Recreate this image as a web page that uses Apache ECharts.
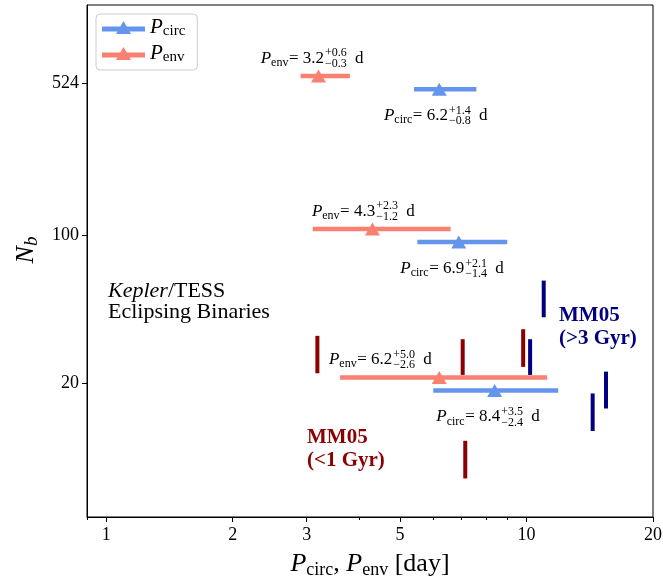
<!DOCTYPE html>
<html lang="en">
<head>
<meta charset="UTF-8">
<title>Pcirc and Penv vs Nb</title>
<script src="https://cdn.jsdelivr.net/npm/echarts@6/dist/echarts.min.js"></script>
<style>
    *{margin:0;padding:0;}
    html,body{width:100%;height:100%;overflow:hidden;background:#fff;}
    #chart{width:663px;height:577px;}
</style>
</head>
<body>
<div id="chart"></div>
<script>
// Kepler/TESS fits, one row per Nb level
const nbLevels = [524, 100, 20];
const envPeriod = [3.2, 4.3, 6.2];
const envMinus = [0.3, 1.2, 2.6];
const envPlus = [0.6, 2.3, 5.0];
const envY = [565, 107, 21.3];
const circPeriod = [6.2, 6.9, 8.4];
const circMinus = [0.8, 1.4, 2.4];
const circPlus = [1.4, 2.1, 3.5];
const circY = [490, 93, 18.5];
const envLabelX = [3.09, 4.09, 4.49];
const circLabelX = [6.08, 6.65, 8.10];

// MM05 clusters (period, Nb range)
const youngP = [3.18, 7.05, 9.82, 7.15];
const youngLo = [22.3, 21.9, 23.9, 7.1];
const youngHi = [33.5, 32.3, 36.0, 10.7];
const oldP = [10.99, 10.2, 15.46, 14.37];
const oldLo = [41.0, 21.9, 15.2, 11.9];
const oldHi = [61.1, 32.3, 22.7, 17.9];

const xTicks = [1, 2, 3, 5, 10, 20];
const xMinorTicks = [0.9, 4, 6, 7, 8, 9];
const yTicks = [20, 100, 524];

const SERIF = "'Liberation Serif', 'DejaVu Serif', serif";
const BLUE = '#6495ED', RED = '#FA8072', DARKRED = '#8B0000', NAVY = '#000080';

let chart = echarts.init(document.getElementById('chart'));

let mctx = document.createElement('canvas').getContext('2d');
function measure(t, size, italic) {
    mctx.font = (italic ? 'italic ' : '') + size + 'px ' + SERIF;
    return mctx.measureText(t).width;
}

// P_sub = val^{+up}_{-down} d, centred on (cx, cy)
function mathLabel(sub, val, up, down, cx, cy) {
    const big = 17, small = 12;
    let pieces = [];
    let x = 0;
    function put(t, size, italic, dy) {
        pieces.push({t, size, italic, x, dy});
        return measure(t, size, italic);
    }
    x += put('P', big, true, 0);
    x += put(sub, small, false, 4.5) + 0.5;
    x += put('= ' + val, big, false, 0) + 1;
    let w1 = put(up, small, false, -5);
    let w2 = put(down, small, false, 5.5);
    x += Math.max(w1, w2) + 4;
    x += put(' d', big, false, 0);
    let left = cx - x / 2;
    return {
        type: 'group',
        children: pieces.map(p => ({
            type: 'text',
            x: left + p.x,
            y: cy + p.dy,
            style: {
                text: p.t, fontFamily: SERIF, fontSize: p.size,
                fontStyle: p.italic ? 'italic' : 'normal',
                fill: '#000', align: 'left', verticalAlign: 'middle'
            }
        }))
    };
}

function barSeries(name, color, per, minus, plus, ys) {
    return {
        name: name,
        type: 'custom',
        itemStyle: {color: color},
        data: per.map((p, i) => [p - minus[i], p + plus[i], ys[i]]),
        encode: {x: [0, 1], y: 2},
        z: 3,
        renderItem: function (params, api) {
            let a = api.coord([api.value(0), api.value(2)]);
            let b = api.coord([api.value(1), api.value(2)]);
            return {
                type: 'line',
                shape: {x1: a[0], y1: a[1], x2: b[0], y2: b[1]},
                style: {stroke: color, lineWidth: 4.5}
            };
        }
    };
}

function markerSeries(name, color, per, ys) {
    return {
        name: name,
        type: 'scatter',
        symbol: 'triangle',
        symbolSize: [15, 13],
        itemStyle: {color: color, opacity: 1},
        z: 4,
        data: per.map((p, i) => [p, ys[i]])
    };
}

function labelSeries(sub, labelX, per, minus, plus, ys, dy) {
    return {
        type: 'custom',
        silent: true,
        z: 5,
        data: labelX.map((x, i) => [x, ys[i], i]),
        renderItem: function (params, api) {
            let i = api.value(2);
            let c = api.coord([api.value(0), api.value(1)]);
            return mathLabel(sub, per[i].toFixed(1), '+' + plus[i].toFixed(1),
                '\u2212' + minus[i].toFixed(1), c[0], c[1] + dy);
        }
    };
}

function vlineSeries(color, per, lo, hi) {
    return {
        type: 'custom',
        silent: true,
        z: 2,
        data: per.map((p, i) => [p, lo[i], hi[i]]),
        encode: {x: 0, y: [1, 2]},
        renderItem: function (params, api) {
            let a = api.coord([api.value(0), api.value(1)]);
            let b = api.coord([api.value(0), api.value(2)]);
            return {
                type: 'line',
                shape: {x1: a[0], y1: a[1], x2: b[0], y2: b[1]},
                style: {stroke: color, lineWidth: 4}
            };
        }
    };
}

const subRich = {
    i: {fontStyle: 'italic', fontFamily: SERIF, fontSize: 26, lineHeight: 30},
    s: {fontFamily: SERIF, fontSize: 18, lineHeight: 18, verticalAlign: 'bottom'},
    si: {fontStyle: 'italic', fontFamily: SERIF, fontSize: 19, lineHeight: 18, verticalAlign: 'bottom'},
    n: {fontFamily: SERIF, fontSize: 26, lineHeight: 30}
};

let options = {
    animation: false,
    backgroundColor: '#fff',
    grid: {
        left: 87, right: 10, top: 5, bottom: 60,
        outerBoundsMode: 'none', containLabel: false,
        show: true, borderColor: '#000', borderWidth: 1
    },
    legend: {
        orient: 'vertical',
        left: 96,
        top: 14,
        padding: [3, 12, 5, 6],
        itemGap: 4,
        itemWidth: 43,
        itemHeight: 14,
        itemTextGap: 13,
        icon: 'path://M0,5.5L43,5.5L43,10.5L0,10.5ZM14,13L21.5,0L29,13Z',
        borderColor: '#cccccc',
        borderWidth: 1,
        borderRadius: 4,
        backgroundColor: 'rgba(255,255,255,0.8)',
        data: ['Pcirc', 'Penv'],
        formatter: function (name) {
            return name === 'Pcirc' ? '{i|P}{s|circ}' : '{i|P}{s|env}';
        },
        textStyle: {
            color: '#000',
            fontFamily: SERIF,
            rich: {
                i: {fontStyle: 'italic', fontFamily: SERIF, fontSize: 21, lineHeight: 23},
                s: {fontFamily: SERIF, fontSize: 15, lineHeight: 14, verticalAlign: 'bottom'}
            }
        }
    },
    xAxis: [{
        type: 'log',
        min: 0.9,
        max: 20,
        name: '{i|P}{s|circ}{n|, }{i|P}{s|env}{n| [day]}',
        nameLocation: 'middle',
        nameGap: 32,
        nameTextStyle: {color: '#000', rich: subRich},
        axisLine: {show: true, lineStyle: {color: '#000', width: 1}},
        axisTick: {show: true, length: 5, customValues: xTicks, lineStyle: {color: '#000'}},
        axisLabel: {
            customValues: xTicks, color: '#000', fontFamily: SERIF, fontSize: 18, margin: 9,
            formatter: v => String(v)
        },
        splitLine: {show: false},
        minorTick: {show: false}
    }, {
        type: 'log',
        min: 0.9,
        max: 20,
        position: 'bottom',
        axisLine: {show: false},
        axisTick: {show: true, length: 3, customValues: xMinorTicks, lineStyle: {color: '#000'}},
        axisLabel: {show: false},
        splitLine: {show: false}
    }],
    yAxis: {
        type: 'log',
        min: 4.67,
        max: 1224,
        name: '{i|N}{si|b}',
        nameLocation: 'middle',
        nameRotate: 90,
        nameGap: 45,
        nameTextStyle: {color: '#000', rich: subRich, padding: [0, 0, 0, 22]},
        axisLine: {show: true, lineStyle: {color: '#000', width: 1}},
        axisTick: {show: true, length: 5, customValues: yTicks, lineStyle: {color: '#000'}},
        axisLabel: {
            customValues: yTicks, color: '#000', fontFamily: SERIF, fontSize: 18, margin: 8,
            formatter: v => String(Math.round(v))
        },
        splitLine: {show: false},
        minorTick: {show: false}
    },
    graphic: [{
        type: 'text',
        left: 108,
        top: 280,
        style: {
            text: '{k|Kepler}/TESS\nEclipsing Binaries',
            fontFamily: SERIF, fontSize: 22, lineHeight: 21, fill: '#000',
            rich: {k: {fontStyle: 'italic', fontFamily: SERIF, fontSize: 22, lineHeight: 21}}
        }
    }, {
        type: 'text',
        left: 559,
        top: 304,
        style: {
            text: 'MM05\n(>3 Gyr)', fontFamily: SERIF, fontWeight: 'bold',
            fontSize: 21, lineHeight: 23, fill: NAVY
        }
    }, {
        type: 'text',
        left: 307,
        top: 426,
        style: {
            text: 'MM05\n(<1 Gyr)', fontFamily: SERIF, fontWeight: 'bold',
            fontSize: 21, lineHeight: 23, fill: DARKRED
        }
    }],
    series: [
        vlineSeries(DARKRED, youngP, youngLo, youngHi),
        vlineSeries(NAVY, oldP, oldLo, oldHi),
        barSeries('Pcirc', BLUE, circPeriod, circMinus, circPlus, circY),
        barSeries('Penv', RED, envPeriod, envMinus, envPlus, envY),
        markerSeries('Pcirc', BLUE, circPeriod, circY),
        markerSeries('Penv', RED, envPeriod, envY),
        labelSeries('env', envLabelX, envPeriod, envMinus, envPlus, envY, -18),
        labelSeries('circ', circLabelX, circPeriod, circMinus, circPlus, circY, 26.5)
    ]
};
chart.setOption(options);
</script>
</body>
</html>
